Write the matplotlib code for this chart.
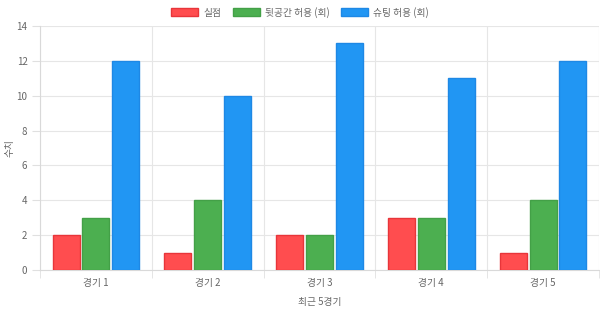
import numpy as np
import matplotlib
matplotlib.use("Agg")
import matplotlib.pyplot as plt

plt.rcParams['font.family'] = ['Noto Sans CJK KR', 'DejaVu Sans']

games = ["경기 1", "경기 2", "경기 3", "경기 4", "경기 5"]
goals = [2, 1, 2, 3, 1]
back_space = [3, 4, 2, 3, 4]
shots = [12, 10, 13, 11, 12]

series = [
    ("실점", goals, "#FF4D4F", "#E8353A"),
    ("뒷공간 허용 (회)", back_space, "#4CAF50", "#43A047"),
    ("슈팅 허용 (회)", shots, "#2196F3", "#1E88E5"),
]

fig = plt.figure(figsize=(6, 3.12), dpi=100)
ax = fig.add_axes([40 / 600, 1 - 270 / 312, 559 / 600, 244 / 312])

x = np.arange(len(games))
slot = 0.8 / 3
w = slot * 0.9
for i, (name, vals, fc, ec) in enumerate(series):
    ax.bar(x - 0.4 + slot * (i + 0.5), vals, width=w, color=fc, edgecolor=ec,
           linewidth=1, label=name, zorder=3)

ax.set_xlim(-0.5, len(games) - 0.5)
ax.set_ylim(0, 14)
ax.set_yticks(range(0, 15, 2))
ax.set_xticks(x)
ax.set_xticklabels(games)
ax.set_xticks(np.arange(-0.5, len(games)), minor=True)

ax.grid(True, axis="y", color="#e6e6e6", linewidth=0.8, zorder=0)
ax.grid(True, axis="x", which="minor", color="#e6e6e6", linewidth=0.8, zorder=0)
ax.tick_params(axis="x", which="major", length=0, labelsize=7, colors="#666666", pad=6)
ax.tick_params(axis="x", which="minor", length=6, color="#e0e0e0")
ax.tick_params(axis="y", length=6, color="#e0e0e0", labelsize=7, labelcolor="#666666", pad=3)
for s in ["top", "right"]:
    ax.spines[s].set_visible(False)
for s in ["left", "bottom"]:
    ax.spines[s].set_color("#d9d9d9")
    ax.spines[s].set_linewidth(0.8)

ax.set_xlabel("최근 5경기", fontsize=7, color="#666666", labelpad=6)
ax.set_ylabel("수치", fontsize=7, color="#666666", va="center")
ax.yaxis.set_label_coords(-31 / 559, 0.5)

fig.legend(loc="upper center", bbox_to_anchor=(0.5, 1.0), ncol=3, frameon=False,
           fontsize=7, labelcolor="#666666", handlelength=2.8, handleheight=0.9,
           columnspacing=1.2, handletextpad=0.5, borderaxespad=0.3)

fig.savefig("out.png", dpi=100)
